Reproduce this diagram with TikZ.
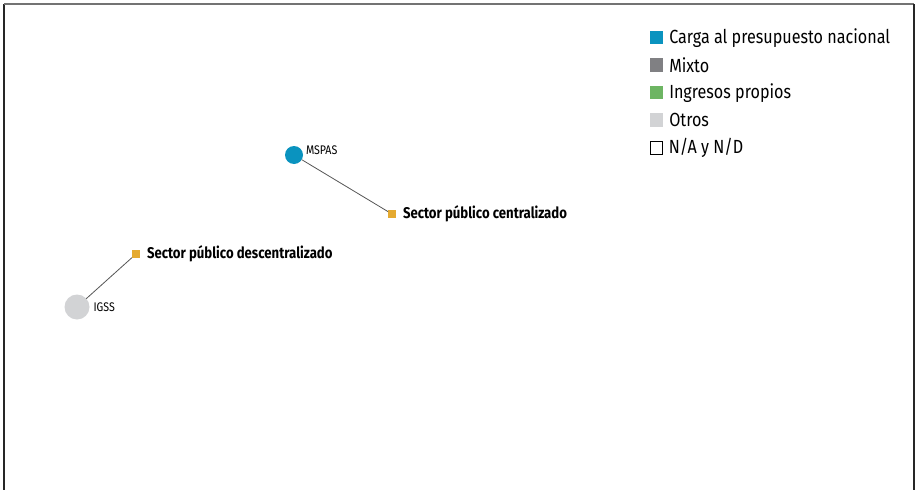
\documentclass[tikz,border=0pt]{standalone}
\usepackage{fontspec}
\setmainfont[FakeStretch=0.85]{Fira Sans}
\usepackage{tikz}
\usetikzlibrary{positioning}
\definecolor{carga}{HTML}{0A93BF}
\definecolor{mixto}{HTML}{808083}
\definecolor{propios}{HTML}{6DB563}
\definecolor{otros}{HTML}{D2D3D5}
\definecolor{sector}{HTML}{E5AA30}
\definecolor{enlace}{HTML}{555555}

\begin{document}
\begin{tikzpicture}[x=1pt,y=-1pt,
    every node/.style={inner sep=0pt,outer sep=0pt},
    key/.style={minimum size=13.5pt},
    keytext/.style={right=6pt of #1,font=\fontsize{19}{22}\selectfont},
    org/.style={fill=sector,minimum size=8pt},
    orgtext/.style={right=7pt of #1,font=\fontsize{15.5}{18}\selectfont\bfseries},
    ent/.style={circle},
    enttext/.style={font=\fontsize{12.5}{14}\selectfont},
    edge/.style={draw=enlace,line width=0.8pt}]
                \useasboundingbox (0,0) rectangle (916,490);
                \draw[line width=1.6pt,black!85] (4,490) -- (4,4);
                \draw[line width=1.6pt,black!55] (4,4) -- (914,4);
                \draw[line width=1.6pt,black!85] (914,4) -- (914,490);

                \node[key,fill=carga] (k1) at (656.5,37.7) {};
                \node[key,fill=mixto] (k2) at (656.5,65.2) {};
                \node[key,fill=propios] (k3) at (656.5,92.7) {};
                \node[key,fill=otros] (k4) at (656.5,120.2) {};
                \node[key,draw=black,line width=0.9pt,minimum size=12.5pt] (k5) at (656.5,147.7) {};
                \node[keytext=k1] {Carga al presupuesto nacional};
                \node[keytext=k2] {Mixto};
                \node[keytext=k3] {Ingresos propios};
                \node[keytext=k4] {Otros};
                \node[keytext=k5] {N/A y N/D};

                \node[org] (centr) at (392,214) {};
                \node[orgtext=centr] {Sector público centralizado};
                \node[org] (descentr) at (136,254) {};
                \node[orgtext=descentr] {Sector público descentralizado};

                \node[ent,fill=carga,minimum size=18pt] (mspas) at (294,155) {};
                \node[ent,fill=otros,minimum size=25pt] (igss) at (77,307) {};
                \node[enttext,anchor=south west] at ([xshift=3pt]mspas.east) {MSPAS};
                \node[enttext,anchor=west] at ([xshift=4pt]igss.east) {IGSS};

                \draw[edge] (mspas) -- (centr);
                \draw[edge] (igss) -- (descentr);
            \end{tikzpicture}
\end{document}
